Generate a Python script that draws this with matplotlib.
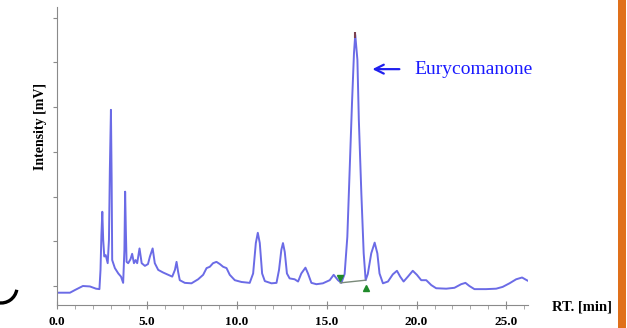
import numpy as np
import matplotlib
matplotlib.use('Agg')
import matplotlib.pyplot as plt
from matplotlib.patches import Arc, Rectangle

# Chromatogram (RT in min, signal in arbitrary mV units)
rt = [0.00, 0.72, 1.00, 1.44, 1.83, 2.17, 2.36, 2.42, 2.47, 2.52,
      2.57, 2.63, 2.71, 2.82, 2.89, 2.94, 3.00, 3.04, 3.07, 3.22,
      3.41, 3.56, 3.68, 3.75, 3.79, 3.83, 3.87, 3.96, 4.09, 4.18,
      4.28, 4.37, 4.46, 4.59, 4.71, 4.89, 5.06, 5.17, 5.32, 5.44,
      5.63, 5.91, 6.18, 6.41, 6.56, 6.65, 6.74, 6.83, 7.11, 7.48,
      7.85, 8.13, 8.32, 8.50, 8.68, 8.87, 9.06, 9.24, 9.43, 9.61,
      9.89, 10.26, 10.72, 10.91, 11.06, 11.17, 11.28, 11.41, 11.56, 11.93,
      12.21, 12.35, 12.48, 12.57, 12.67, 12.79, 12.94, 13.22, 13.41, 13.59,
      13.82, 13.96, 14.15, 14.43, 14.79, 15.17, 15.39, 15.63, 15.82, 16.00,
      16.15, 16.28, 16.41, 16.52, 16.59, 16.71, 16.79, 16.93, 17.06, 17.17,
      17.29, 17.48, 17.67, 17.82, 17.94, 18.13, 18.41, 18.68, 18.91, 19.09,
      19.28, 19.52, 19.79, 20.02, 20.26, 20.54, 20.82, 21.09, 21.65, 22.11,
      22.48, 22.72, 22.94, 23.22, 23.87, 24.43, 24.79, 25.17, 25.54, 25.87,
      26.13, 26.28]
signal = [-15, -15, -9, 0, -1, -6, -7, 36, 114, 166,
          103, 66, 69, 51, 103, 260, 394, 237, 58, 40,
          28, 21, 7, 81, 211, 125, 54, 51, 60, 72,
          51, 58, 51, 84, 51, 45, 49, 66, 84, 51,
          36, 30, 25, 21, 36, 54, 31, 13, 7, 6,
          15, 25, 40, 43, 51, 54, 49, 43, 40, 25,
          13, 9, 7, 28, 96, 119, 96, 28, 11, 6,
          7, 36, 81, 96, 76, 28, 17, 15, 10, 28,
          41, 28, 7, 4, 6, 13, 25, 13, 7, 27,
          110, 260, 409, 521, 562, 506, 371, 207, 73, 13,
          27, 73, 97, 73, 28, 6, 10, 26, 34, 21,
          10, 21, 34, 25, 13, 13, 2, -5, -6, -4,
          4, 7, 0, -7, -7, -6, -2, 6, 15, 19,
          13, 10]

# integration baseline of the main peak
base_rt = [15.76, 17.17]
base_sig = [7, 13]
peak_rt = 16.59
peak_sig = 562

fig = plt.figure(figsize=(6.27, 3.28), dpi=100)
ax = fig.add_axes([57/627, 1-305/328, 471/627, 298/328])

ax.plot(rt, signal, color='#6b6be6', lw=1.4, solid_joinstyle='round')
ax.plot(base_rt, base_sig, color='#7a8a7a', lw=1.0)
ax.plot(base_rt[0], base_sig[0] + 10, marker='v', color='#1f8a2a', ms=4.5)
ax.plot(base_rt[1], base_sig[1] - 17, marker='^', color='#1f8a2a', ms=4.5)
ax.plot(peak_rt, peak_sig, marker='|', color='#7a4050', ms=4, mew=1.5)

ax.set_xlim(0, 26.2)
ax.set_ylim(-42.5, 624)

for s in ['top', 'right']:
    ax.spines[s].set_visible(False)
ax.spines['left'].set_color('#8a8a8a')
ax.spines['bottom'].set_color('#8a8a8a')

ax.set_yticks(np.arange(0, 601, 100))
ax.set_yticklabels([])
ax.tick_params(axis='y', colors='#8a8a8a', length=3, direction='out')

ax.set_xticks(np.arange(0, 26, 5.0))
ax.set_xticks(np.arange(0, 27, 1.0), minor=True)
ax.set_xticklabels(['0.0', '5.0', '10.0', '15.0', '20.0', '25.0'])
ax.tick_params(axis='x', which='major', direction='inout', length=6,
               color='#8a8a8a', pad=5, labelsize=9.5)
ax.tick_params(axis='x', which='minor', direction='out', length=3,
               color='#9a9a9a')
for lab in ax.get_xticklabels():
    lab.set_fontfamily('Liberation Serif')
    lab.set_fontweight('bold')

ax.set_ylabel('Intensity [mV]', family='Liberation Serif', weight='bold',
              fontsize=10)
ax.yaxis.set_label_coords(-0.021, 0.6)
ax.text(1.051, -0.007, 'RT. [min]', transform=ax.transAxes, ha='left',
        va='center', family='Liberation Serif', weight='bold', fontsize=10.5,
        clip_on=False)

# annotation of the main peak
ax.annotate('', xy=(17.39, 485), xytext=(19.2, 485),
            arrowprops=dict(arrowstyle='->', color='#2020ee', lw=1.6,
                            mutation_scale=16))
ax.text(19.9, 485, 'Eurycomanone', color='#1a1aff', family='Liberation Serif',
        fontsize=14, ha='left', va='center')

# decorations in pixel space: orange bar and black stroke at left
deco = fig.add_axes([0, 0, 1, 1], zorder=-1)
deco.set_xlim(0, 627)
deco.set_ylim(328, 0)
deco.axis('off')
deco.add_patch(Rectangle((618, 0), 7.5, 328, color='#e0701a', lw=0))
deco.add_patch(Arc((1, 287), 32, 32, theta1=10, theta2=100, color='black',
                   lw=2.4))

fig.savefig('out.png', dpi=100)
